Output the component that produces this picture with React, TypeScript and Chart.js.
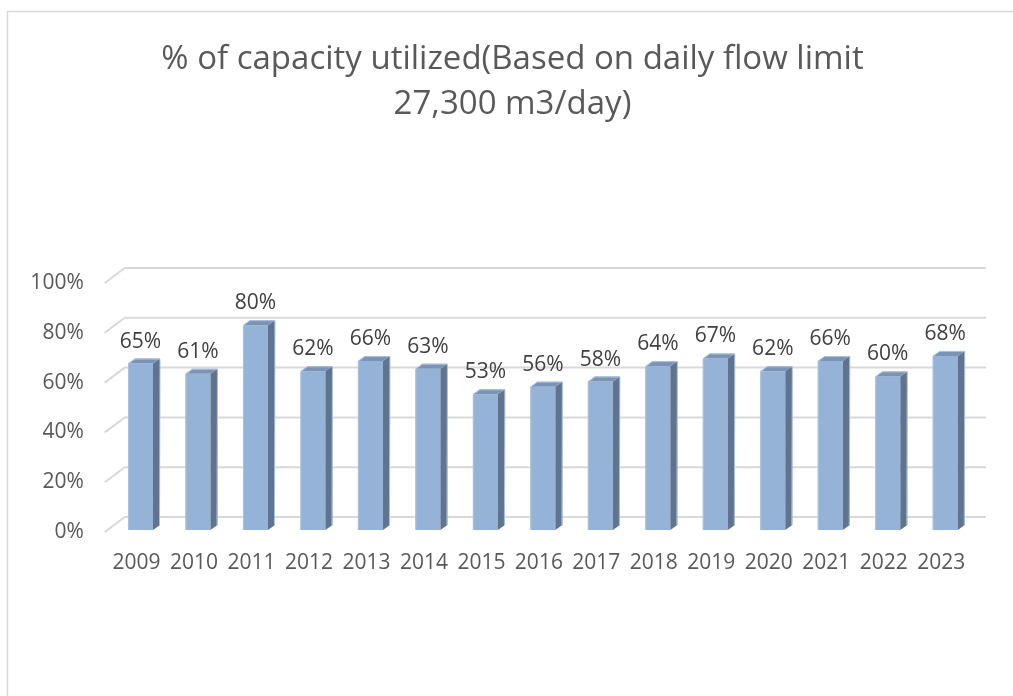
import React, { useEffect, useRef } from 'react';
import { Chart, registerables } from 'chart.js';

Chart.register(...registerables);

const TITLE_LINES = ['% of capacity utilized(Based on daily flow limit', '27,300 m3/day)'];
const YEARS = ['2009', '2010', '2011', '2012', '2013', '2014', '2015', '2016', '2017', '2018', '2019', '2020', '2021', '2022', '2023'];
const UTILIZATION = [65, 61, 80, 62, 66, 63, 53, 56, 58, 64, 67, 62, 66, 60, 68];
const Y_MIN = 0;
const Y_MAX = 100;
const Y_STEP = 20;

const FONT = '"Open Sans", "Noto Sans", sans-serif';
const W = 1013;
const H = 696;

// 3D look parameters (pixels)
const DEPTH_DX = 7;
const DEPTH_DY = 5;
const WALL_DX = 20;
const WALL_DY = 15;

// bar value axis: bars stand in front of the back wall, so 0 sits ~13px below
// the wall floor and 100 sits ~6px below the wall's 100% line
const BAR_AXIS_MIN = 5.08;
const BAR_AXIS_MAX = 102.35;

const framePlugin = {
  id: 'frame',
  beforeDraw(chart: any) {
    const ctx = chart.ctx;
    ctx.save();
    ctx.fillStyle = '#ffffff';
    ctx.fillRect(0, 0, chart.width, chart.height);
    ctx.strokeStyle = '#d9d9d9';
    ctx.lineWidth = 1.5;
    ctx.beginPath();
    ctx.moveTo(7.5, chart.height);
    ctx.lineTo(7.5, 11.5);
    ctx.lineTo(chart.width, 11.5);
    ctx.stroke();
    ctx.restore();
  },
};

const wallPlugin = {
  id: 'wall',
  beforeDatasetsDraw(chart: any) {
    const { ctx, chartArea } = chart;
    const y = chart.scales.y;
    ctx.save();
    ctx.strokeStyle = '#d9d9d9';
    ctx.lineWidth = 2;
    y.ticks.forEach((t: any) => {
      const py = y.getPixelForValue(t.value);
      const wallLeft = chartArea.left + 13;
      ctx.beginPath();
      ctx.moveTo(wallLeft - WALL_DX, py + WALL_DY);
      ctx.lineTo(wallLeft, py);
      ctx.lineTo(chartArea.right + 12, py);
      ctx.stroke();
    });
    ctx.restore();
  },
};

const bar3dPlugin = {
  id: 'bar3d',
  afterDatasetsDraw(chart: any) {
    const ctx = chart.ctx;
    const meta = chart.getDatasetMeta(0);
    const values = chart.data.datasets[0].data as number[];
    ctx.save();
    meta.data.forEach((el: any, i: number) => {
      const { x, y, base, width } = el.getProps(['x', 'y', 'base', 'width'], true);
      const l = x - width / 2;
      const r = x + width / 2;
      // side face
      ctx.fillStyle = '#60748f';
      ctx.beginPath();
      ctx.moveTo(r, y);
      ctx.lineTo(r + DEPTH_DX, y - DEPTH_DY);
      ctx.lineTo(r + DEPTH_DX, base - DEPTH_DY);
      ctx.lineTo(r, base);
      ctx.closePath();
      ctx.fill();
      // top face
      ctx.fillStyle = '#7b94b5';
      ctx.beginPath();
      ctx.moveTo(l, y);
      ctx.lineTo(l + DEPTH_DX, y - DEPTH_DY);
      ctx.lineTo(r + DEPTH_DX, y - DEPTH_DY);
      ctx.lineTo(r, y);
      ctx.closePath();
      ctx.fill();
      // light edges
      ctx.strokeStyle = '#a9c2e0';
      ctx.lineWidth = 1;
      ctx.beginPath();
      ctx.moveTo(l + 0.5, base);
      ctx.lineTo(l + 0.5, y + 0.5);
      ctx.lineTo(l + DEPTH_DX, y - DEPTH_DY + 0.5);
      ctx.lineTo(r + DEPTH_DX, y - DEPTH_DY + 0.5);
      ctx.lineTo(r + DEPTH_DX - 0.5, base - DEPTH_DY);
      ctx.stroke();
      // value label
      ctx.fillStyle = '#404040';
      ctx.font = `21px ${FONT}`;
      ctx.textAlign = 'center';
      ctx.textBaseline = 'middle';
      ctx.fillText(`${values[i]}%`, x, y - 22);
    });
    ctx.restore();
  },
};

export default function App() {
  const ref = useRef<HTMLCanvasElement>(null);
  useEffect(() => {
    document.body.style.margin = '0';
    const canvas = ref.current!;
    const chart = new Chart(canvas, {
      type: 'bar',
      data: {
        labels: YEARS,
        datasets: [
          {
            data: UTILIZATION,
            yAxisID: 'yb',
            base: 0,
            backgroundColor: '#95b3d7',
            borderWidth: 0,
            categoryPercentage: 1,
            barPercentage: 0.435,
            clip: false as any,
          } as any,
        ],
      },
      options: {
        responsive: false,
        animation: false,
        layout: { padding: { left: 12, right: 0, top: 0, bottom: 0 } },
        plugins: {
          legend: { display: false },
          tooltip: { enabled: false },
          title: {
            display: true,
            text: TITLE_LINES,
            color: '#595959',
            font: { family: FONT, size: 33, weight: 'normal', lineHeight: '45px' } as any,
            padding: { top: 37, bottom: 141 },
          },
        },
        scales: {
          x: {
            type: 'category',
            position: 'bottom',
            grid: { display: false, drawTicks: false },
            border: { display: false },
            ticks: {
              color: '#595959',
              font: { family: FONT, size: 21 },
              padding: 33,
              labelOffset: -4,
              maxRotation: 0,
              autoSkip: false,
            },
            afterFit: (s: any) => {
              s.height = 179;
            },
          },
          y: {
            type: 'linear',
            position: 'left',
            min: Y_MIN,
            max: Y_MAX,
            grid: { display: false, drawTicks: false },
            border: { display: false },
            ticks: {
              stepSize: Y_STEP,
              color: '#595959',
              font: { family: FONT, size: 21 },
              padding: 28,
              labelOffset: WALL_DY,
              callback: (v: any) => `${v}%`,
            },
            afterFit: (s: any) => {
              s.width = 99.75;
            },
          },
          yb: {
            type: 'linear',
            position: 'right',
            min: BAR_AXIS_MIN,
            max: BAR_AXIS_MAX,
            grid: { display: false, drawTicks: false },
            border: { display: false },
            ticks: { display: false },
            afterFit: (s: any) => {
              s.width = 39;
            },
          },
        },
      },
      plugins: [framePlugin, wallPlugin, bar3dPlugin],
    });
    return () => chart.destroy();
  }, []);
  return (
    <div style={{ width: W, height: H }}>
      <canvas ref={ref} width={W} height={H} style={{ display: 'block' }} />
    </div>
  );
}
